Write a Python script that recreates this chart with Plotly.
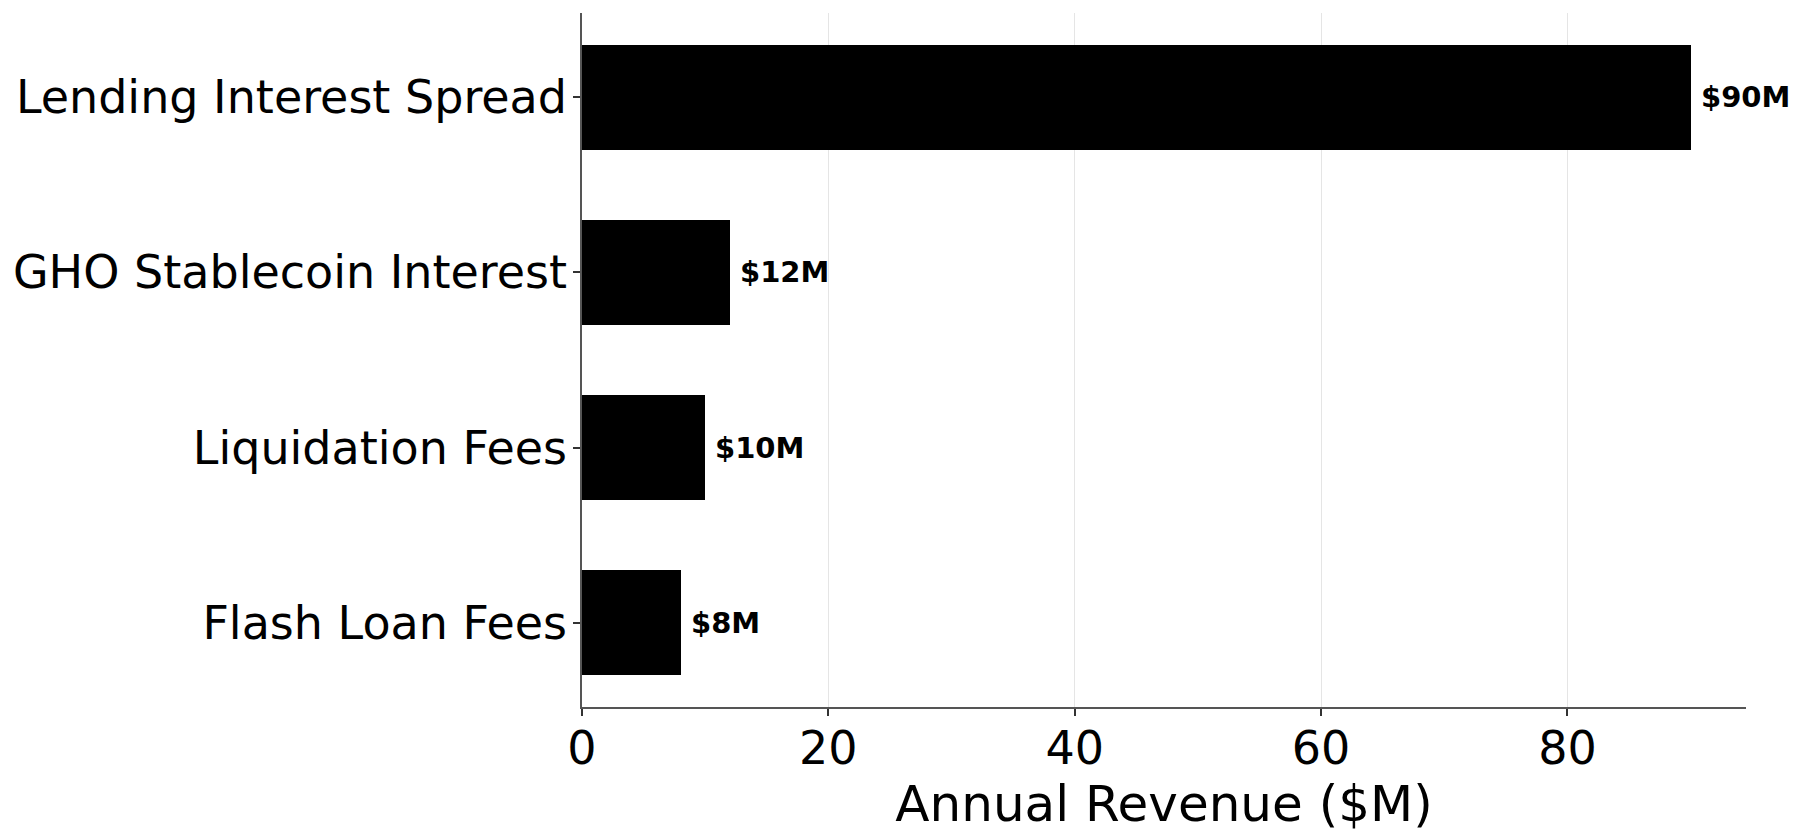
import plotly.graph_objects as go

categories = ["Flash Loan Fees", "Liquidation Fees", "GHO Stablecoin Interest", "Lending Interest Spread"]
revenue = [8, 10, 12, 90]
bar_labels = ["$8M", "$10M", "$12M", "$90M"]
x_ticks = [0, 20, 40, 60, 80]

FONT = "DejaVu Sans"

fig = go.Figure()
fig.add_trace(go.Bar(
    x=revenue,
    y=categories,
    orientation="h",
    width=0.6,
    marker=dict(color="black", line=dict(width=0)),
    showlegend=False,
    hoverinfo="x+y",
))

for v, c, t in zip(revenue, categories, bar_labels):
    fig.add_annotation(
        x=v, y=c, text="<b>" + t + "</b>", showarrow=False,
        xanchor="left", yanchor="middle", xshift=8,
        font=dict(family=FONT, size=29, color="black"),
    )

fig.update_layout(
    width=1796, height=830,
    margin=dict(l=574, r=58, t=5, b=131, autoexpand=False),
    paper_bgcolor="white", plot_bgcolor="white",
    font=dict(family=FONT, color="black"),
    bargap=0,
)

fig.update_xaxes(
    range=[0, 94.5],
    tickvals=x_ticks,
    ticktext=[str(v) for v in x_ticks],
    showgrid=True, gridcolor="#e5e5e5", gridwidth=1,
    zeroline=False,
    showline=True, linecolor="#555555", linewidth=1.6,
    ticks="outside", ticklen=7, tickwidth=1.6, tickcolor="#333333",
    ticklabelstandoff=-7,
    tickfont=dict(family=FONT, size=46, color="black"),
    title=dict(text="Annual Revenue ($M)", font=dict(family=FONT, size=50, color="black"), standoff=2),
)
fig.update_yaxes(
    range=[-0.48, 3.48],
    showgrid=False, zeroline=False,
    showline=True, linecolor="#555555", linewidth=1.6,
    ticks="outside", ticklen=7, tickwidth=1.6, tickcolor="#333333",
    ticklabelstandoff=-3,
    tickfont=dict(family=FONT, size=46, color="black"),
)

fig.write_html("out.html")
